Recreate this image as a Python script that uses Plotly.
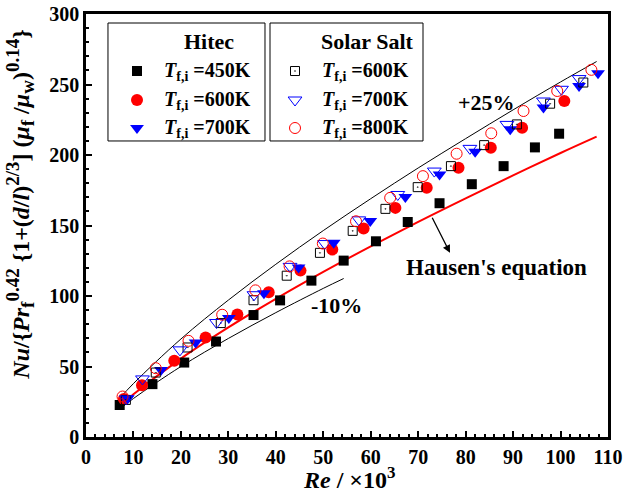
import plotly.graph_objects as go

# ---- data ----
hitec450_re = [7.1, 14.0, 20.7, 27.4, 35.3, 40.9, 47.5, 54.3, 61.1, 67.8, 74.5, 81.3, 88.0, 94.6, 99.7]
hitec450_nu = [22.7, 37.5, 52.8, 67.7, 86.5, 96.9, 110.9, 125.1, 138.8, 152.5, 165.8, 179.3, 192.1, 205.4, 215.1]

hitec600_re = [8.0, 11.8, 18.6, 25.2, 31.9, 38.5, 45.2, 51.9, 58.5, 65.2, 71.8, 78.5, 85.3, 91.9, 100.8]
hitec600_nu = [27.0, 36.7, 54.0, 70.6, 86.9, 102.6, 118.0, 132.9, 147.8, 162.5, 176.8, 191.0, 205.2, 219.4, 238.3]

hitec700_re = [8.8, 15.8, 23.1, 30.1, 37.5, 44.8, 52.2, 59.9, 67.3, 74.5, 82.0, 89.4, 96.4, 103.9, 107.9]
hitec700_nu = [27.5, 47.6, 67.0, 84.4, 102.0, 120.3, 137.7, 153.2, 170.3, 186.2, 202.3, 218.2, 233.6, 249.0, 258.0]

solar600_re = [8.4, 14.7, 21.4, 28.4, 35.3, 42.3, 49.3, 56.2, 63.1, 69.9, 76.9, 83.9, 90.8, 97.8, 104.8]
solar600_nu = [26.3, 45.7, 63.5, 80.8, 97.0, 114.4, 130.6, 146.2, 161.8, 177.2, 192.1, 207.0, 221.7, 236.4, 251.4]

solar700_re = [8.5, 11.9, 19.8, 27.5, 35.4, 43.0, 50.3, 57.5, 65.7, 73.4, 80.9, 88.7, 96.4, 100.2, 103.9]
solar700_nu = [27.0, 41.2, 61.8, 81.2, 100.9, 121.0, 137.2, 154.0, 172.0, 188.6, 204.7, 221.7, 238.3, 246.6, 254.2]

solar800_re = [7.7, 14.7, 21.6, 28.7, 35.7, 42.9, 49.9, 56.9, 64.1, 71.0, 78.1, 85.4, 92.2, 99.3, 106.5]
solar800_nu = [28.7, 48.8, 68.2, 86.7, 104.0, 121.0, 137.2, 153.0, 169.6, 185.0, 200.9, 215.4, 231.2, 245.4, 260.4]

hausen_re = [7, 10, 20, 30, 40, 50, 60, 70, 80, 90, 100, 107.6]
hausen_nu = [21.7, 30.3, 55.6, 77.7, 98.0, 117.1, 135.2, 152.6, 169.3, 185.6, 201.4, 213.0]

plus25_re = [7, 10, 20, 30, 40, 50, 60, 70, 80, 90, 100, 107.6]
plus25_nu = [27.1, 37.9, 69.5, 97.1, 122.5, 146.4, 169.0, 190.8, 211.6, 232.0, 251.8, 266.3]

minus10_re = [7, 10, 20, 30, 40, 50, 54.3]
minus10_nu = [19.5, 27.3, 50.0, 69.9, 88.2, 105.4, 112.4]

x_ticks = [0, 10, 20, 30, 40, 50, 60, 70, 80, 90, 100, 110]
y_ticks = [0, 50, 100, 150, 200, 250, 300]

hitec_labels = ["450K", "600K", "700K"]
solar_labels = ["600K", "700K", "800K"]

FONT = "Liberation Serif, Times New Roman, serif"
LBL = "<b><i>T</i><sub>f,i</sub> ={}</b>"

BLACK, RED, BLUE = "black", "#FF0000", "#0000FF"
hitec_styles = [dict(symbol="square", size=10, color=BLACK),
                dict(symbol="circle", size=12, color=RED),
                dict(symbol="triangle-down", size=12, color=BLUE)]
solar_styles = [dict(symbol="square-open-dot", size=9, color=BLACK, line=dict(width=1, color=BLACK)),
                dict(symbol="triangle-down-open", size=12, color=BLUE, line=dict(width=1, color=BLUE)),
                dict(symbol="circle-open", size=11, color=RED, line=dict(width=1, color=RED))]

fig = go.Figure()

# reference lines
fig.add_trace(go.Scatter(x=plus25_re, y=plus25_nu, mode="lines", line=dict(color=BLACK, width=1),
                         line_shape="spline", showlegend=False, hoverinfo="skip"))
fig.add_trace(go.Scatter(x=minus10_re, y=minus10_nu, mode="lines", line=dict(color=BLACK, width=1),
                         line_shape="spline", showlegend=False, hoverinfo="skip"))
fig.add_trace(go.Scatter(x=hausen_re, y=hausen_nu, mode="lines", line=dict(color=RED, width=2),
                         line_shape="spline", showlegend=False, hoverinfo="skip"))

series = [
    (hitec450_re, hitec450_nu, hitec_styles[0]),
    (hitec600_re, hitec600_nu, hitec_styles[1]),
    (hitec700_re, hitec700_nu, hitec_styles[2]),
    (solar600_re, solar600_nu, solar_styles[0]),
    (solar700_re, solar700_nu, solar_styles[1]),
    (solar800_re, solar800_nu, solar_styles[2]),
]
for xs, ys, st in series:
    fig.add_trace(go.Scatter(x=xs, y=ys, mode="markers", marker=st, showlegend=False))

# ---- custom legend boxes (overlay axes spanning the plot area, 0..1) ----
row_y = [0.8652, 0.7967, 0.7305]
for i, st in enumerate(hitec_styles):
    fig.add_trace(go.Scatter(x=[0.0977], y=[row_y[i]], mode="markers", marker=st,
                             xaxis="x2", yaxis="y2", showlegend=False, hoverinfo="skip"))
for i, st in enumerate(solar_styles):
    fig.add_trace(go.Scatter(x=[0.4004], y=[row_y[i]], mode="markers", marker=st,
                             xaxis="x2", yaxis="y2", showlegend=False, hoverinfo="skip"))

leg_font = dict(family=FONT, size=20, color=BLACK)
title_font = dict(family=FONT, size=22, color=BLACK)
fig.add_shape(type="rect", xref="x2", yref="y2", x0=0.0421, x1=0.3429, y0=0.6998, y1=0.9787,
              line=dict(color=BLACK, width=1))
fig.add_shape(type="rect", xref="x2", yref="y2", x0=0.3525, x1=0.6456, y0=0.6998, y1=0.9787,
              line=dict(color=BLACK, width=1))
fig.add_annotation(xref="x2", yref="y2", x=0.2347, y=0.936, text="<b>Hitec</b>",
                   showarrow=False, font=title_font)
fig.add_annotation(xref="x2", yref="y2", x=0.539, y=0.936, text="<b>Solar Salt</b>",
                   showarrow=False, font=title_font)
for i, lab in enumerate(hitec_labels):
    fig.add_annotation(xref="x2", yref="y2", x=0.1456, y=row_y[i], xanchor="left",
                       text=LBL.format(lab), showarrow=False, font=leg_font)
for i, lab in enumerate(solar_labels):
    fig.add_annotation(xref="x2", yref="y2", x=0.4483, y=row_y[i], xanchor="left",
                       text=LBL.format(lab), showarrow=False, font=leg_font)

axis_common = dict(
    showline=True, linewidth=2.5, linecolor=BLACK, mirror=True,
    ticks="inside", ticklen=6, tickwidth=2, tickcolor=BLACK,
    showgrid=False, zeroline=False, automargin=False,
    tickfont=dict(family=FONT, size=20, color=BLACK),
)

fig.update_xaxes(range=[0, 110], tickvals=x_ticks, ticktext=[f"<b>{v}</b>" for v in x_ticks], **axis_common,
                 minor=dict(ticks="inside", ticklen=3, tickwidth=1.5, dtick=2, tickcolor=BLACK))
fig.update_yaxes(range=[0, 300], tickvals=y_ticks, ticktext=[f"<b>{v}</b>" for v in y_ticks], **axis_common,
                 minor=dict(ticks="inside", ticklen=3, tickwidth=1.5, dtick=10, tickcolor=BLACK))

fig.update_layout(
    width=625, height=495,
    margin=dict(l=86, r=17, t=14, b=58),
    plot_bgcolor="white", paper_bgcolor="white",
    font=dict(family=FONT, color=BLACK),
    showlegend=False,
    xaxis2=dict(overlaying="x", range=[0, 1], visible=False, fixedrange=True),
    yaxis2=dict(overlaying="y", range=[0, 1], visible=False, fixedrange=True),
)

# axis titles as annotations
S = "<span style='font-size:19px'>{}</span>"
ytitle = ("<b><i>Nu</i>/{<i>Pr</i><sub>" + S.format("f") + "</sub><sup>" + S.format("0.42") + "</sup> "
          "{1+(<i>d</i>/<i>l</i>)<sup>" + S.format("2/3") + "</sup>] "
          "(<i>μ</i><sub>" + S.format("f") + "</sub> /<i>μ</i><sub>" + S.format("w") + "</sub>)<sup>"
          + S.format("0.14") + "</sup>}</b>")
fig.add_annotation(xref="paper", yref="paper", x=-0.127, y=0.5485, text=ytitle, textangle=-90,
                   showarrow=False, xanchor="center", yanchor="middle",
                   font=dict(family=FONT, size=24, color=BLACK))
fig.add_annotation(xref="paper", yref="paper", x=0.5057, y=-0.097,
                   text="<b><i>Re</i> / ×10<sup>" + S.format("3").replace("19px", "17px") + "</sup></b>",
                   showarrow=False, xanchor="center", yanchor="middle",
                   font=dict(family=FONT, size=24, color=BLACK))

txt_font = dict(family=FONT, size=22, color=BLACK)
fig.add_annotation(x=84.5, y=237.4, text="<b>+25%</b>", showarrow=False, font=txt_font)
fig.add_annotation(x=52.8, y=93, text="<b>-10%</b>", showarrow=False, font=txt_font)
fig.add_annotation(x=86.4, y=120, text="<b>Hausen's equation</b>", showarrow=False,
                   font=dict(family=FONT, size=23, color=BLACK))
fig.add_annotation(x=76.7, y=130.6, ax=72.8, ay=156.6, axref="x", ayref="y", xref="x", yref="y",
                   text="", showarrow=True, arrowhead=2, arrowsize=1.2, arrowwidth=1.3, arrowcolor=BLACK)

fig.write_html("out.html", config={"displayModeBar": False},
               post_script="document.body.style.margin='0px';")
